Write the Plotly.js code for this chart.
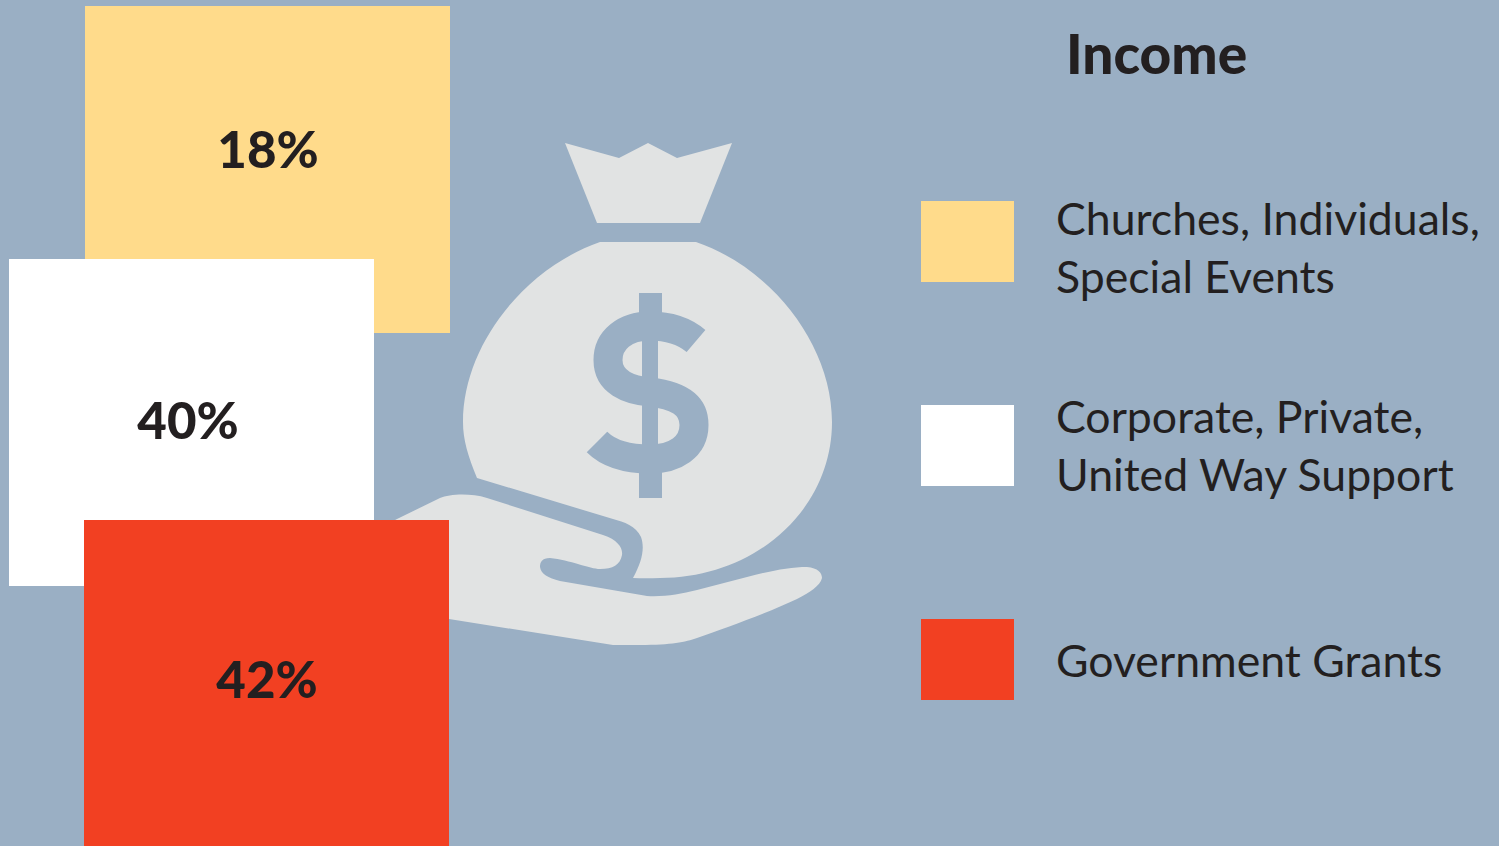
<!DOCTYPE html>
<html>
<head>
<meta charset="utf-8">
<script src="https://cdn.plot.ly/plotly-3.0.1.min.js"></script>
<style>html,body{margin:0;padding:0;background:#9AAFC4;overflow:hidden}#chart{width:1499px;height:846px}</style>
</head>
<body>
<div id="chart"></div>
<script>
// Data
const chartTitle = "Income";
const categories = ["Churches, Individuals, Special Events", "Corporate, Private, United Way Support", "Government Grants"];
const shares = [18, 40, 42];
const legendLines = [["Churches, Individuals,", "Special Events"], ["Corporate, Private,", "United Way Support"], ["Government Grants"]];

// Styles
const tileColors = ["#FFDB8B", "#FFFFFF", "#F24022"];
const bg = "#9AAFC4", iconFill = "#E1E3E3", ink = "#231F20";
const fontFamily = "Lato, 'Open Sans', sans-serif";

// Placement (page pixels, the axes run 1:1 with the page)
const tileCenterX = [267.5, 191.5, 266.5];
const tileTop = [6, 259, 520];
const tileW = 365, tileH = 327;
const labelX = [268, 188, 267], labelY = [155, 426, 685];
const swatchCenterX = [967.5, 967.5, 967.5];
const swatchTop = [201, 405, 619];
const swatchW = 93, swatchH = 81;
const legendLineY = [[217, 275], [415, 473], [659]];
const legendX = 1056;

const tiles = {
  type: "bar", x: tileCenterX, y: tileTop.map(() => tileH), base: tileTop, width: tileW,
  customdata: categories,
  marker: {color: tileColors, line: {width: 0}}, showlegend: false, hoverinfo: "skip"
};
const swatches = {
  type: "bar", x: swatchCenterX, y: swatchTop.map(() => swatchH), base: swatchTop, width: swatchW,
  marker: {color: tileColors, line: {width: 0}}, showlegend: false, hoverinfo: "skip"
};
const labels = {
  type: "scatter", mode: "text", x: labelX, y: labelY,
  text: shares.map(v => v + "%"), textposition: "middle center",
  textfont: {family: fontFamily, size: 51, color: ink, weight: 900},
  showlegend: false, hoverinfo: "skip"
};

// Icon paths
const knot = "M565,143 L619,158 L648,143 L677,158 L732,143 L700,223 L597,223 Z";
const bag = "M600,242 L696,242 C772,268 832,345 832,422 C832,510 755,578 660,578 Q645,578.5 633,578 C642,562 645,548 641,537 C636,526 624,522 613,519 L477,478 C468,456 463,440 463,422 C463,345 525,268 600,242 Z";
const hand = "M380,528 L397,519 L440,498 C450,494 470,493 487,498 L603,535 C618,540 623,548 622,555 C620,565 613,569 600,569 C590,569 570,560 550,558 C542,558 540,562 540,567 C541,574 548,578 560,581 L647,596 C665,597 680,594 697,590 L747,577 C770,571 790,567 807,567 C818,568 822,573 822,578 C820,586 810,592 797,599 C770,612 725,628 697,638 C685,642 672,645 640,645 L613,645 L449,619 L380,608 Z";
const sCurve = "M696,341 C683,330 668,326 650,326 C625,326 608,340 608,360 C608,382 628,390 650,392 C675,395 694,403 694,425 C694,447 675,459 650,459 C630,459 610,455 597,442";

const shapes = [
  {type: "path", path: hand, fillcolor: iconFill, line: {width: 0}, layer: "below"},
  {type: "path", path: bag, fillcolor: iconFill, line: {width: 0}, layer: "below"},
  {type: "path", path: knot, fillcolor: iconFill, line: {width: 0}, layer: "below"},
  {type: "path", path: sCurve, line: {color: bg, width: 29}, layer: "below"},
  {type: "rect", x0: 642, x1: 658, y0: 313, y1: 483, fillcolor: bg, line: {width: 0}, layer: "below"},
  {type: "rect", x0: 639, x1: 662, y0: 293, y1: 322, fillcolor: bg, line: {width: 0}, layer: "below"},
  {type: "rect", x0: 639, x1: 662, y0: 464, y1: 498, fillcolor: bg, line: {width: 0}, layer: "below"}
];

const annotations = [{
  x: 1156.5, y: 53, xref: "x", yref: "y", text: chartTitle, showarrow: false,
  xanchor: "center", yanchor: "middle",
  font: {family: fontFamily, size: 55, color: ink, weight: 900}
}];
legendLines.forEach((lines, i) => lines.forEach((line, j) => annotations.push({
  x: legendX, y: legendLineY[i][j], xref: "x", yref: "y", text: line, showarrow: false,
  xanchor: "left", yanchor: "middle", xshift: -2,
  font: {family: fontFamily, size: 44.6, color: ink}
})));

const layout = {
  width: 1499, height: 846, margin: {l: 0, r: 0, t: 0, b: 0, pad: 0},
  paper_bgcolor: bg, plot_bgcolor: bg, barmode: "overlay", hovermode: false,
  xaxis: {range: [0, 1499], visible: false, fixedrange: true},
  yaxis: {range: [846, 0], visible: false, fixedrange: true},
  shapes, annotations
};
Plotly.newPlot("chart", [tiles, swatches, labels], layout, {displayModeBar: false, staticPlot: true});
</script>
</body>
</html>
